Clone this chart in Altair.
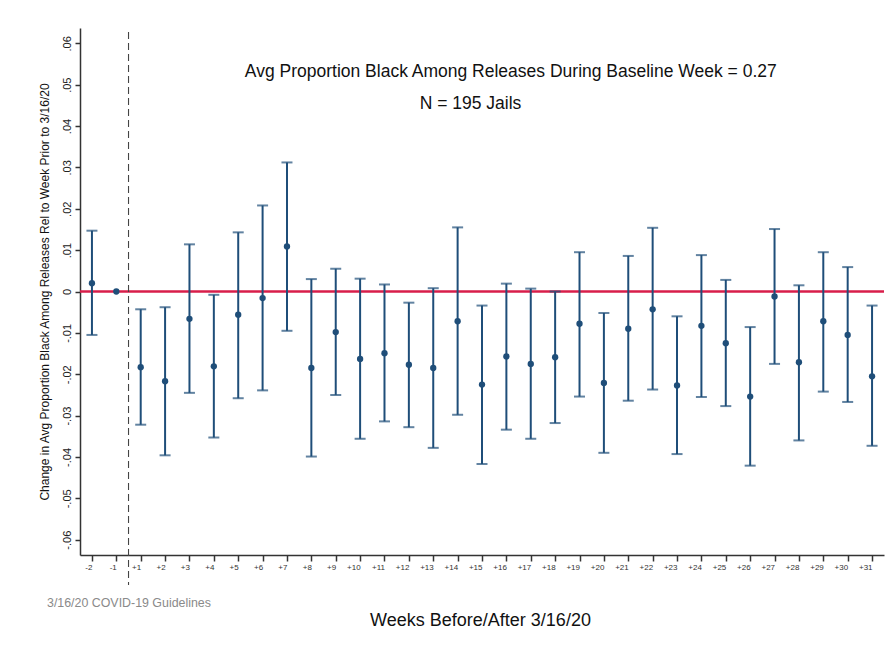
import altair as alt
import pandas as pd

weeks = ['-2', '-1'] + ['+%d' % i for i in range(1, 32)]

coef = [0.0020, 0.0,
        -0.0183, -0.0217, -0.0066, -0.0181, -0.0056, -0.0016, 0.0109, -0.0185,
        -0.0098, -0.0163, -0.0149, -0.0177, -0.0185, -0.0072, -0.0225, -0.0157,
        -0.0175, -0.0159, -0.0078, -0.0221, -0.0090, -0.0043, -0.0227, -0.0083,
        -0.0125, -0.0254, -0.0012, -0.0171, -0.0072, -0.0105, -0.0205]

upper = [0.0147, None,
         -0.0043, -0.0038, 0.0114, -0.0008, 0.0143, 0.0208, 0.0312, 0.0030,
         0.0055, 0.0031, 0.0017, -0.0027, 0.0008, 0.0155, -0.0034, 0.0019,
         0.0007, 0.0000, 0.0095, -0.0052, 0.0086, 0.0154, -0.0060, 0.0088,
         0.0028, -0.0086, 0.0151, 0.0015, 0.0095, 0.0059, -0.0034]

lower = [-0.0105, None,
         -0.0322, -0.0396, -0.0245, -0.0353, -0.0258, -0.0239, -0.0095, -0.0399,
         -0.0250, -0.0356, -0.0314, -0.0328, -0.0378, -0.0298, -0.0417, -0.0334,
         -0.0356, -0.0318, -0.0254, -0.0390, -0.0264, -0.0237, -0.0393, -0.0255,
         -0.0277, -0.0421, -0.0175, -0.0360, -0.0242, -0.0267, -0.0373]

y_ticks = [-0.06, -0.05, -0.04, -0.03, -0.02, -0.01, 0, 0.01, 0.02, 0.03, 0.04, 0.05, 0.06]
y_tick_labels = ['-.06', '-.05', '-.04', '-.03', '-.02', '-.01', '0',
                 '.01', '.02', '.03', '.04', '.05', '.06']

title_text = 'Avg Proportion Black Among Releases During Baseline Week = 0.27'
n_text = 'N = 195 Jails'
note_text = '3/16/20 COVID-19 Guidelines'

FONT = 'Liberation Sans'
NAVY = '#1f4e79'
RED = '#d81e4a'

df = pd.DataFrame({'week': weeks, 'coef': coef, 'upper': upper, 'lower': lower})
ci = df.dropna()
one = pd.DataFrame({'k': [0]})  # single row for reference lines / annotations

y_label_expr = '[' + ','.join("'%s'" % s for s in y_tick_labels) + '][round(datum.value*100)+6]'

x_scale = alt.Scale(type='point', domain=weeks, padding=0.49)
y_scale = alt.Scale(domain=[-0.0637, 0.0637], nice=False, zero=False)

x_axis = alt.Axis(labelOverlap=False, labelAngle=0,
                  title='Weeks Before/After 3/16/20', titleFontSize=18, titleFontWeight='normal',
                  titleFont=FONT, titleColor='#111', titleBaseline='middle', titleY=65, titleX=400,
                  labelFont=FONT, labelFontSize=8, labelColor='#333', labelPadding=6,
                  tickSize=6, tickColor='#333', tickWidth=1.5,
                  domainColor='#333', domainWidth=1.5, grid=False)

y_axis = alt.Axis(values=y_ticks, labelExpr=y_label_expr, labelAngle=270, labelOverlap=False,
                  labelAlign='center', labelBaseline='bottom', labelPadding=3,
                  labelFont=FONT, labelFontSize=11, labelColor='#222',
                  title='Change in Avg Proportion Black Among Releases Rel to Week Prior to 3/16/20',
                  titleFont=FONT, titleFontSize=12, titleFontWeight='normal', titleColor='#111',
                  titleAngle=270, titleAlign='center', titleBaseline='middle',
                  titleX=-36, titleY=263.5,
                  tickSize=5, tickColor='#333', tickWidth=1.5,
                  domainColor='#333', domainWidth=1.5, grid=False, labelFlush=False)

X = alt.X('week:O', scale=x_scale, axis=x_axis, sort=weeks)

zero_line = alt.Chart(one).mark_rule(color=RED, strokeWidth=2.4).encode(
    y=alt.datum(0, scale=y_scale, axis=y_axis)
)

# dashed marker half a step right of week -1
dash_line = alt.Chart(one).mark_rule(color='#444', strokeWidth=1.1, strokeDash=[7, 4],
                                     clip=False, xOffset=12.2).encode(
    x=alt.datum('-1'), y=alt.value(4), y2=alt.value(557)
)

bars = alt.Chart(ci).mark_rule(color=NAVY, strokeWidth=2).encode(
    x=X, y='lower:Q', y2='upper:Q'
)
caps_hi = alt.Chart(ci).mark_tick(color=NAVY, orient='horizontal', size=11, thickness=2).encode(
    x=X, y='upper:Q'
)
caps_lo = alt.Chart(ci).mark_tick(color=NAVY, orient='horizontal', size=11, thickness=2).encode(
    x=X, y='lower:Q'
)
points = alt.Chart(df).mark_circle(color=NAVY, size=40, opacity=1).encode(x=X, y='coef:Q')

annot1 = alt.Chart(one).mark_text(
    font=FONT, fontSize=17.5, color='#111', align='center', baseline='middle', dx=4.4,
    text=title_text
).encode(x=alt.datum('+16'), y=alt.datum(0.0531))

annot2 = alt.Chart(one).mark_text(
    font=FONT, fontSize=17.5, color='#111', align='center', baseline='middle', dx=12.9,
    text=n_text
).encode(x=alt.datum('+14'), y=alt.datum(0.0453))

note = alt.Chart(one).mark_text(
    font=FONT, fontSize=12.4, color='#8a8a8a', align='left', baseline='middle', clip=False,
    text=note_text
).encode(x=alt.value(-33), y=alt.value(575))

chart = alt.layer(zero_line, dash_line, bars, caps_hi, caps_lo, points, annot1, annot2, note).properties(
    width=804, height=527,
    autosize=alt.AutoSizeParams(type='none'),
    padding={'left': 72, 'top': 20, 'right': 2, 'bottom': 99},
    background='white'
).configure_view(stroke=None)

chart.save("out.html", embed_options={"renderer": "svg", "actions": False})
